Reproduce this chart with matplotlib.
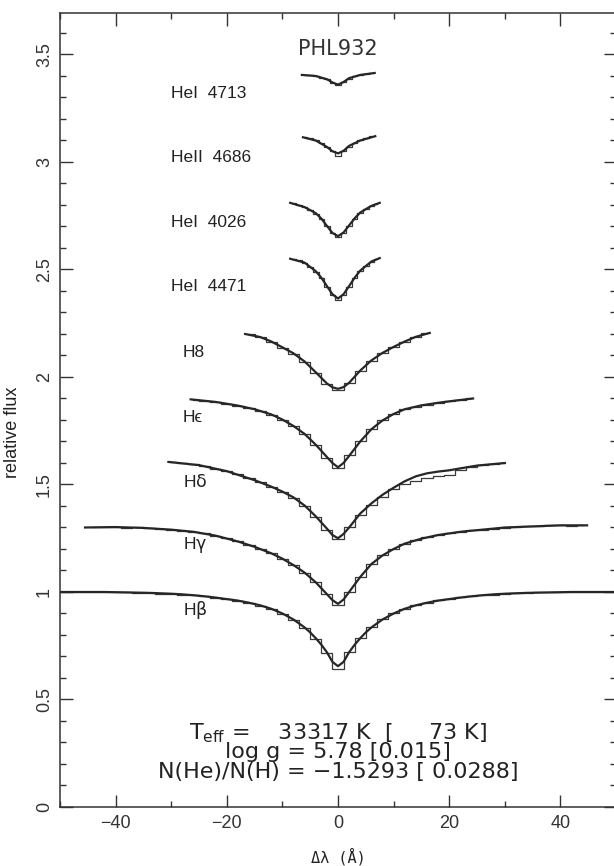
import numpy as np
import matplotlib
matplotlib.use("Agg")
import matplotlib.pyplot as plt

plt.rcParams['font.family'] = ['Liberation Sans', 'DejaVu Sans']
plt.rcParams['mathtext.fontset'] = 'custom'
plt.rcParams['mathtext.rm'] = 'DejaVu Sans'
plt.rcParams['mathtext.it'] = 'DejaVu Sans'

# ---- observed spectra (binned), x = wavelength offset in Angstrom ----
hb_x = np.arange(-50, 51, 2)
hb_obs = [1.001, 1.0, 0.999, 1.002, 0.998, 1.0, 0.999, 0.997, 0.996, 0.993,
          0.993, 0.988, 0.985, 0.981, 0.974, 0.966, 0.96, 0.949, 0.937, 0.921,
          0.899, 0.871, 0.834, 0.783, 0.715, 0.64, 0.72, 0.787, 0.836, 0.873,
          0.901, 0.923, 0.94, 0.951, 0.961, 0.968, 0.975, 0.98, 0.985, 0.988,
          0.991, 0.994, 0.996, 0.998, 0.999, 0.999, 1.001, 1.0, 1.0, 0.999, 1.0]

hg_x = np.arange(-44, 45, 2)
hg_obs = [1.301, 1.30, 1.303, 1.298, 1.30, 1.296, 1.293, 1.29, 1.286, 1.28,
          1.273, 1.262, 1.25, 1.235, 1.219, 1.20, 1.18, 1.155, 1.125, 1.088,
          1.045, 0.99, 0.94, 1.0, 1.07, 1.128, 1.17, 1.20, 1.224, 1.242,
          1.255, 1.266, 1.274, 1.281, 1.287, 1.29, 1.295, 1.299, 1.302, 1.305,
          1.306, 1.31, 1.31, 1.309, 1.311]

hd_x = np.arange(-30, 31, 2)
hd_obs = [1.606, 1.60, 1.595, 1.585, 1.574, 1.561, 1.547, 1.53, 1.51, 1.49,
          1.466, 1.438, 1.40, 1.35, 1.29, 1.245, 1.30, 1.36, 1.405, 1.442,
          1.478, 1.503, 1.518, 1.53, 1.538, 1.545, 1.568, 1.58, 1.59, 1.597, 1.60]

he_x = np.arange(-26, 25, 2)
he_obs = [1.895, 1.89, 1.882, 1.875, 1.866, 1.855, 1.842, 1.824, 1.80, 1.77,
          1.733, 1.682, 1.625, 1.575, 1.635, 1.70, 1.758, 1.798, 1.828, 1.849,
          1.862, 1.872, 1.88, 1.887, 1.894, 1.90]

h8_x = np.arange(-16, 17, 2)
h8_obs = [2.198, 2.185, 2.163, 2.137, 2.108, 2.07, 2.02, 1.968, 1.94, 1.972,
          2.028, 2.075, 2.11, 2.138, 2.163, 2.186, 2.203]

hei4471_x = np.arange(-8, 8, 1)
hei4471_obs = [2.548, 2.542, 2.53, 2.512, 2.49, 2.46, 2.42, 2.38, 2.36, 2.382,
               2.42, 2.46, 2.493, 2.516, 2.535, 2.55]

hei4026_x = np.arange(-8, 8, 1)
hei4026_obs = [2.808, 2.80, 2.79, 2.778, 2.76, 2.735, 2.70, 2.668, 2.65, 2.67,
               2.70, 2.737, 2.765, 2.782, 2.795, 2.806]

heii4686_x = np.arange(-6, 7, 1)
heii4686_obs = [3.114, 3.11, 3.10, 3.088, 3.07, 3.05, 3.03, 3.05, 3.072, 3.09,
                3.10, 3.11, 3.12]

hei4713_x = np.arange(-6, 7, 1)
hei4713_obs = [3.405, 3.404, 3.40, 3.393, 3.384, 3.368, 3.357, 3.37, 3.388,
               3.398, 3.405, 3.41, 3.413]

# ---- model fits ----
hb_mx = [-50, -46, -42, -38, -34, -30, -28, -26, -24, -22, -20, -18, -16, -14, -12,
         -10, -8, -6, -5, -4, -3, -2, -1, 0, 1, 2, 3, 4, 5, 6, 8, 10, 12, 14, 16,
         18, 20, 22, 24, 26, 28, 30, 34, 38, 42, 46, 50]
hb_mod = [1.0, 1.0, 1.0, 0.998, 0.996, 0.992, 0.989, 0.985, 0.98, 0.974, 0.967,
          0.96, 0.95, 0.938, 0.922, 0.90, 0.872, 0.835, 0.812, 0.785, 0.755, 0.72,
          0.675, 0.655, 0.675, 0.72, 0.755, 0.785, 0.812, 0.835, 0.872, 0.90,
          0.922, 0.938, 0.95, 0.96, 0.967, 0.974, 0.98, 0.985, 0.989, 0.992,
          0.996, 0.998, 1.0, 1.0, 1.0]

hg_mx = [-45.5, -40, -35, -30, -26, -22, -18, -15, -12, -10, -8, -6, -4, -2, -1,
         0, 1, 2, 4, 6, 8, 10, 12, 15, 18, 22, 26, 30, 35, 40, 44.8]
hg_mod = [1.30, 1.302, 1.298, 1.29, 1.28, 1.262, 1.235, 1.21, 1.18, 1.155, 1.125,
          1.09, 1.045, 0.99, 0.962, 0.945, 0.965, 1.0, 1.07, 1.13, 1.17, 1.20,
          1.225, 1.248, 1.265, 1.28, 1.29, 1.30, 1.305, 1.31, 1.31]

hd_mx = [-30.5, -25, -20, -15, -12, -10, -8, -6, -4, -2, -1, 0, 1, 2, 4, 6, 8,
         10, 12, 14, 16, 18, 20, 22, 25, 30]
hd_mod = [1.605, 1.59, 1.562, 1.52, 1.49, 1.467, 1.44, 1.402, 1.352, 1.295,
          1.265, 1.25, 1.27, 1.30, 1.365, 1.412, 1.452, 1.485, 1.515, 1.538,
          1.552, 1.56, 1.566, 1.575, 1.588, 1.60]

he_mx = [-26.5, -22, -18, -15, -12, -10, -8, -6, -4, -2, -1, 0, 1, 2, 4, 6, 8,
         10, 12, 15, 18, 21, 24.3]
he_mod = [1.896, 1.884, 1.867, 1.85, 1.826, 1.802, 1.772, 1.735, 1.685, 1.628,
          1.60, 1.58, 1.60, 1.633, 1.70, 1.757, 1.798, 1.828, 1.85, 1.868,
          1.88, 1.89, 1.90]

h8_mx = [-16.7, -14, -12, -10, -8, -6, -4, -2, -1, 0, 1, 2, 4, 6, 8, 10, 12, 14, 16.5]
h8_mod = [2.20, 2.186, 2.165, 2.138, 2.11, 2.072, 2.022, 1.97, 1.952, 1.945,
          1.953, 1.973, 2.03, 2.077, 2.112, 2.14, 2.165, 2.187, 2.205]

hei4471_mx = [-8.6, -6, -4, -3, -2, -1, 0, 1, 2, 3, 4, 6, 7.5]
hei4471_mod = [2.55, 2.532, 2.492, 2.462, 2.423, 2.385, 2.365, 2.385, 2.423,
               2.462, 2.495, 2.537, 2.553]

hei4026_mx = [-8.6, -6, -4, -3, -2, -1, 0, 1, 2, 3, 4, 6, 7.5]
hei4026_mod = [2.81, 2.79, 2.762, 2.737, 2.703, 2.67, 2.655, 2.672, 2.705,
               2.738, 2.765, 2.796, 2.81]

heii4686_mx = [-6.3, -4, -2, -1, 0, 1, 2, 4, 6.7]
heii4686_mod = [3.115, 3.10, 3.07, 3.05, 3.04, 3.052, 3.075, 3.10, 3.12]

hei4713_mx = [-6.5, -4, -2, -1, 0, 1, 2, 4, 6.6]
hei4713_mod = [3.405, 3.40, 3.385, 3.37, 3.36, 3.372, 3.39, 3.405, 3.414]

lines = [
    (hb_x, hb_obs, hb_mx, hb_mod),
    (hg_x, hg_obs, hg_mx, hg_mod),
    (hd_x, hd_obs, hd_mx, hd_mod),
    (he_x, he_obs, he_mx, he_mod),
    (h8_x, h8_obs, h8_mx, h8_mod),
    (hei4471_x, hei4471_obs, hei4471_mx, hei4471_mod),
    (hei4026_x, hei4026_obs, hei4026_mx, hei4026_mod),
    (heii4686_x, heii4686_obs, heii4686_mx, heii4686_mod),
    (hei4713_x, hei4713_obs, hei4713_mx, hei4713_mod),
]

label_text = ["H$\\beta$", "H$\\gamma$", "H$\\delta$", "H\u03f5", "H8",
              "HeI  4471", "HeI  4026", "HeII  4686", "HeI  4713"]
label_x = [-27.9, -27.9, -27.9, -27.9, -27.9, -30, -30, -30, -30]
label_y = [0.915, 1.22, 1.515, 1.81, 2.115, 2.42, 2.72, 3.02, 3.32]

fig = plt.figure(figsize=(6.14, 8.66), dpi=100)
ax = fig.add_axes([60 / 614, 59 / 866, 556 / 614, 794 / 866])

col = '#262626'
for x, obs, mx, mod in lines:
    ax.step(x, obs, where='mid', color='#3a3a3a', lw=0.9)
    ax.plot(mx, mod, color=col, lw=1.6)

for t, lx, ly in zip(label_text, label_x, label_y):
    ax.text(lx, ly, t, fontsize=12.5, va='center', ha='left', color='#222222')

ax.text(0, 3.525, "PHL932", fontsize=15, ha='center', va='center', color='#333333',
        family='DejaVu Sans')

ann_font = dict(fontsize=16, ha='center', va='center', color='#222222',
                family='DejaVu Sans')
ax.text(0, 0.345, r"T$_\mathrm{eff}$ =    33317 K  [     73 K]", **ann_font)
ax.text(0, 0.258, "log g = 5.78 [0.015]", **ann_font)
ax.text(0, 0.163, "N(He)/N(H) = \u22121.5293 [ 0.0288]", **ann_font)

ax.set_xlim(-50, 50)
ax.set_ylim(0, 3.693)
ax.set_xticks([-40, -20, 0, 20, 40])
ax.set_xticks(np.arange(-50, 51, 10), minor=True)
ax.set_yticks([0, 0.5, 1, 1.5, 2, 2.5, 3, 3.5])
ax.set_yticks(np.arange(0, 3.7, 0.1), minor=True)
ax.set_yticklabels(['0', '0.5', '1', '1.5', '2', '2.5', '3', '3.5'],
                   rotation=90, va='center')
ax.set_xticklabels(['\u221240', '\u221220', '0', '20', '40'])
ax.tick_params(which='both', direction='in', top=True, right=True,
               colors='#333333', labelsize=13, width=1)
ax.tick_params(which='major', length=9)
ax.tick_params(which='minor', length=4.5)
ax.tick_params(axis='y', pad=5)
ax.tick_params(axis='x', pad=6)
for s in ax.spines.values():
    s.set_color('#333333')
    s.set_linewidth(1.1)

ax.set_ylabel("relative flux", fontsize=13, color='#222222', va='center')
ax.yaxis.set_label_coords(-0.086, 0.472)
ax.set_xlabel("\u0394\u03bb (\u00c5)", fontsize=11,
              family=['DejaVu Sans Mono', 'DejaVu Sans'], color='#222222')
ax.xaxis.set_label_coords(0.5, -0.052)

fig.savefig("out.png", dpi=100)
